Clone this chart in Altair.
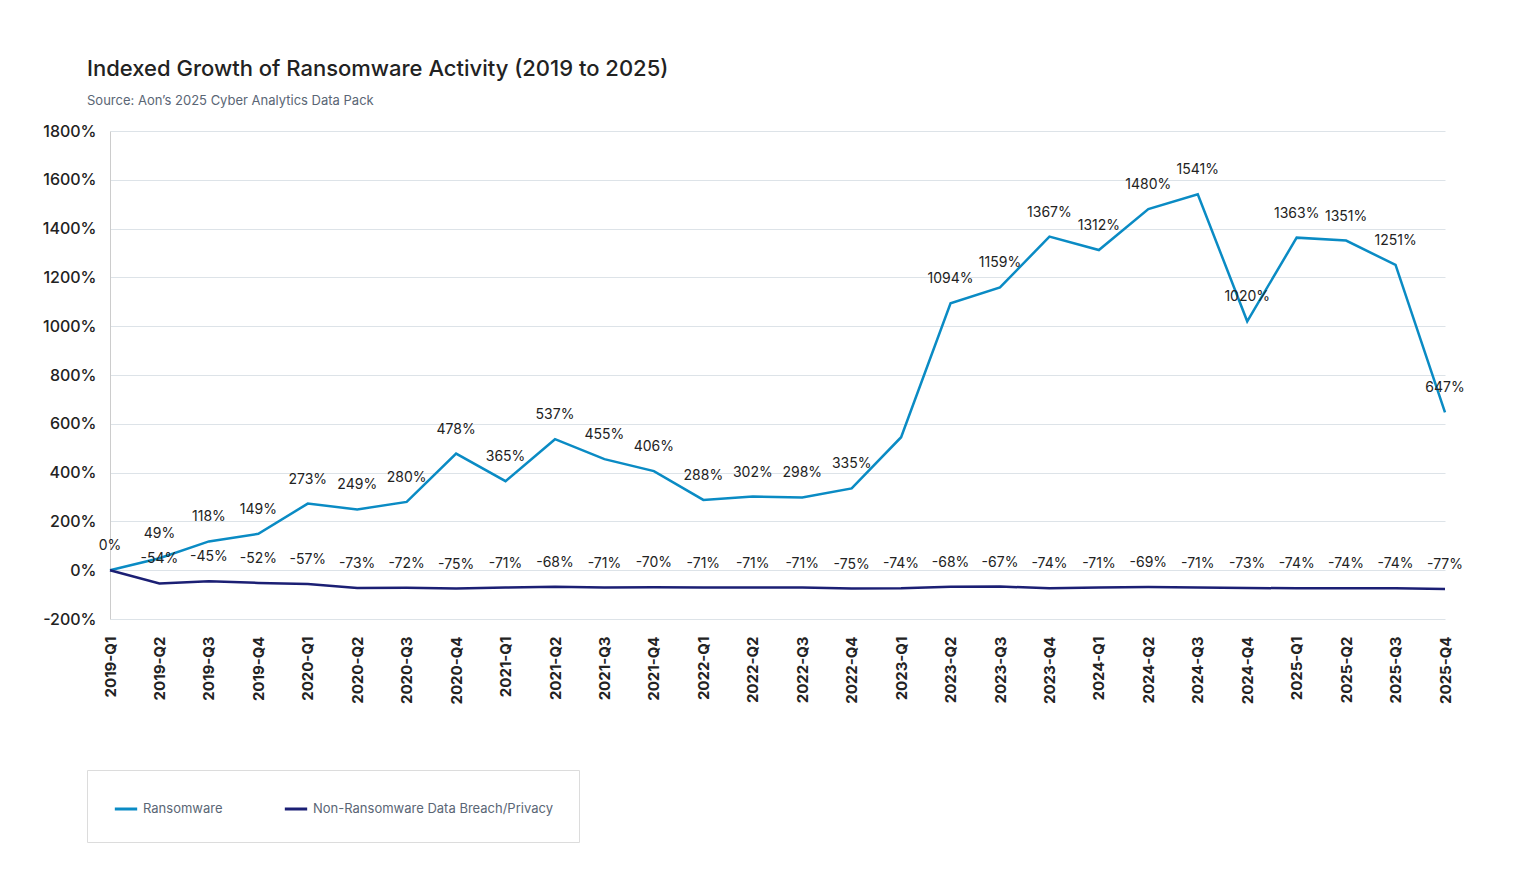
import altair as alt
import pandas as pd

quarters = [f"{y}-Q{q}" for y in range(2019, 2026) for q in range(1, 5)]
ransomware = [0, 49, 118, 149, 273, 249, 280, 478, 365, 537, 455, 406, 288, 302,
              298, 335, 545, 1094, 1159, 1367, 1312, 1480, 1541, 1020, 1363, 1351, 1251, 647]
non_ransom = [0, -54, -45, -52, -57, -73, -72, -75, -71, -68, -71, -70, -71, -71,
              -71, -75, -74, -68, -67, -74, -71, -69, -71, -73, -74, -74, -74, -77]
ransom_label_show = [q != "2023-Q1" for q in quarters]
non_label_show = [q != "2019-Q1" for q in quarters]

S1 = "Ransomware"
S2 = "Non-Ransomware Data Breach/Privacy"
rows = []
for i, q in enumerate(quarters):
    rows.append(dict(q=q, s=S1, v=ransomware[i], show=ransom_label_show[i], lab=f"{ransomware[i]}%"))
    rows.append(dict(q=q, s=S2, v=non_ransom[i], show=non_label_show[i], lab=f"{non_ransom[i]}%"))
df = pd.DataFrame(rows)

FONT = "Inter"
x = alt.X("q:N", sort=quarters, scale=alt.Scale(padding=0),
          axis=alt.Axis(title=None, labelAngle=-90, labelFontSize=15, labelFontWeight="bold",
                        labelColor="#222", domain=False, ticks=False, labelPadding=17,
                        grid=False, labelAlign="right", labelBaseline="middle"))
y = alt.Y("v:Q", scale=alt.Scale(domain=[-200, 1800], nice=False),
          axis=alt.Axis(title=None, values=list(range(-200, 1801, 200)), labelExpr="datum.value + '%'",
                        labelFontSize=16, labelColor="#222", labelFontWeight=500,
                        domain=True, domainColor="#ccc", ticks=False, gridColor="#dde3e8",
                        labelPadding=14))
color = alt.Color("s:N", scale=alt.Scale(domain=[S1, S2], range=["#0a8bc4", "#1b1f74"]),
                  legend=alt.Legend(title=None, orient="none", legendX=-23, legendY=639,
                                    direction="horizontal", symbolType="stroke", symbolStrokeWidth=3,
                                    symbolSize=500, labelFontSize=13, labelColor="#5a6675",
                                    labelLimit=400,
                                    strokeColor="#dcdcdc", padding=26, columnPadding=55,
                                    labelFont=FONT))

base = alt.Chart(df)
lines = base.mark_line(strokeWidth=2.5).encode(x=x, y=y, color=color)
labels = base.transform_filter("datum.show").mark_text(
    baseline="bottom", dy=-17, fontSize=14, color="#222", font=FONT
).encode(x=alt.X("q:N", sort=quarters), y="v:Q", text="lab:N")

chart = (lines + labels).properties(
    width=1335, height=488,
    title=alt.TitleParams("Indexed Growth of Ransomware Activity (2019 to 2025)",
                          subtitle="Source: Aon’s 2025 Cyber Analytics Data Pack",
                          anchor="start", frame="group", dx=-23, offset=14,
                          fontSize=22, fontWeight=500, color="#222", font=FONT,
                          subtitleFontSize=13, subtitleColor="#5a6675", subtitleFont=FONT,
                          subtitlePadding=14),
    autosize=alt.AutoSizeParams(type="none"),
    padding={"left": 102, "top": 123, "right": 80, "bottom": 250},
).configure_view(stroke=None).configure_axis(labelFont=FONT)

chart.save("out.html", embed_options={"renderer": "svg", "actions": False})
